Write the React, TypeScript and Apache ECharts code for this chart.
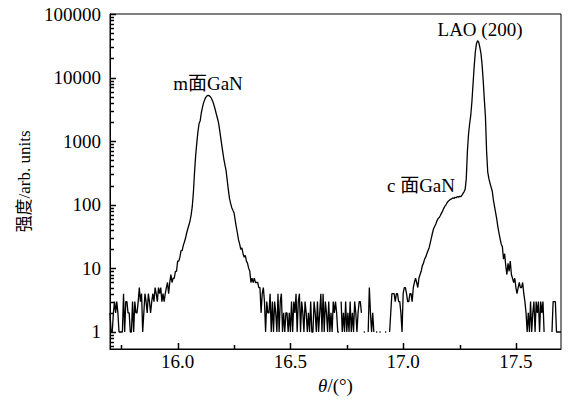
import React, { useEffect, useRef } from 'react';
import * as echarts from 'echarts';

// Sampling grid of the scan (degrees)
const thetaStart = 15.7;
const thetaStep = 0.005;

// Measured intensity (counts), one row = 0.05 deg; null = zero count (not drawable on log axis)
const intensity: (number | null)[] = [
  2, 1, 1, 2, 3, 2, 3, 2, 1, 1, // 15.70
  1, 1, 4, 1, 3, 3, 2, 2, 1, 1, // 15.75
  3, 1, 3, 2, 2, 3, 5, 3, 4, 1, // 15.80
  2, 4, 3, 2, 4, 3, 2, 3, 4, 3, // 15.85
  5, 4, 3, 5, 4, 5, 3, 4, 3, 4, // 15.90
  5, 6, 4, 6, 8, 6, 7, 7, 9, 9, // 15.95
  13, 13, 15, 19, 19, 23, 26, 30, 36, 42, // 16.00
  48, 56, 70, 95, 160, 330, 600, 950, 1400, 1900, // 16.05
  2100, 2800, 3400, 4000, 4500, 4900, 5150, 5250, 5200, 5000, // 16.10
  4700, 4300, 3800, 3300, 2800, 2400, 2050, 1600, 1200, 900, // 16.15
  680, 520, 420, 340, 240, 170, 125, 105, 90, 82, // 16.20
  75, 58, 45, 36, 28, 24, 20, 21, 17, 15, // 16.25
  16, 13, 12, 10, 9, 6, 7, 6, 7, 6, // 16.30
  6, 6, 5, 5, 2, 4, 5, 3, 1, 3, // 16.35
  2, 2, 4, 1, 3, 1, 3, 2, 1, 4, // 16.40
  1, 3, 4, 1, 2, 1, 2, 2, 1, 2, // 16.45
  1, 3, 1, 3, 2, 4, 1, 3, 4, 1, // 16.50
  3, 2, 1, 3, 2, 1, 2, 1, 3, 1, // 16.55
  1, 3, 2, 1, 3, 1, 2, 4, 1, 4, // 16.60
  1, 3, 2, 1, 3, 1, 2, 1, 3, 2, // 16.65
  3, 2, 1, 1, null, 3, 1, 2, 1, 3, // 16.70
  1, 2, 1, 3, 1, 2, 1, 3, 2, 1, // 16.75
  2, 3, 3, 2, null, 1, 1, null, null, 1, // 16.80
  5, 2, 1, 2, 1, null, 1, 1, null, 1, // 16.85
  1, null, null, null, 1, 1, null, null, 1, 2, // 16.90
  4, 4, 4, 3, 4, 4, 3, 3, 2, 1, // 16.95
  4, 5, 5, 4, 3, 3, 4, 4, 3, 5, // 17.00
  6, 7, 6, 5, 7, 8, 9, 11, 12, 14, // 17.05
  15, 17, 19, 21, 25, 30, 36, 42, 46, 50, // 17.10
  56, 61, 63, 68, 74, 80, 88, 95, 100, 108, // 17.15
  114, 118, 122, 124, 128, 126, 131, 129, 134, 132, // 17.20
  136, 134, 140, 150, 160, 175, 260, 700, 1300, 1900, // 17.25
  2600, 4200, 8000, 15000, 25000, 34000, 38000, 36000, 30000, 24000, // 17.30
  16000, 9000, 4500, 2400, 700, 330, 260, 220, 190, 165, // 17.35
  120, 95, 75, 60, 45, 36, 29, 24, 22, 14, // 17.40
  17, 11, 8, 12, 9, 13, 8, 7, 6, 7, // 17.45
  5, 4, 5, 6, 5, 5, 6, 4, 3, 2, // 17.50
  1, 2, 1, 3, 1, 2, 3, 1, 3, 2, // 17.55
  3, 1, 3, 2, 3, 1, null, null, null, null, // 17.60
  null, null, 1, 3, 3, 3, 1, 1, 1, 1, // 17.65
  1, // 17.70
];

const xMin = 15.7;
const xMax = 17.7;
const yMin = 0.54;
const yMax = 100000;
const xMajorTicks = [16.0, 16.5, 17.0, 17.5];
const xMinorTicks = [15.75, 16.25, 16.75, 17.25];
const yMajorTicks = [1, 10, 100, 1000, 10000, 100000];
const yDecades = [1, 10, 100, 1000, 10000];
const yMinorSteps = [2, 3, 4, 5, 6, 7, 8, 9];
const yMinorBelowOne = [0.6, 0.7, 0.8, 0.9];

const annotations = [
  { text: 'm面GaN', x: 208, y: 83 },
  { text: 'LAO (200)', x: 480, y: 29 },
  { text: 'c 面GaN', x: 421, y: 185 },
];

const FONT = '"Liberation Serif", "Times New Roman", "Noto Sans CJK SC", serif';
const MAJOR_LEN = 6;
const MINOR_LEN = 4;
const TICK_COLOR = '#000';

export default function App() {
  const ref = useRef<HTMLDivElement>(null);

  useEffect(() => {
    if (!ref.current) return;
    const chart = echarts.init(ref.current, undefined, { renderer: 'svg' });

    const lineData = intensity.map((v, i) => [
      Number((thetaStart + i * thetaStep).toFixed(3)),
      v === null ? '-' : v,
    ]);

    const yMinor = [
      ...yMinorBelowOne,
      ...yDecades.flatMap((d) => yMinorSteps.map((s) => s * d)),
    ];

    const isPow10 = (v: number) => {
      const l = Math.log10(v);
      return Math.abs(l - Math.round(l)) < 1e-6;
    };

    chart.setOption({
      animation: false,
      backgroundColor: '#fff',
      grid: {
        left: 110,
        right: 9,
        top: 14,
        bottom: 62,
        show: true,
        borderColor: '#000',
        borderWidth: 1,
        backgroundColor: 'transparent',
      },
      xAxis: {
        type: 'value',
        min: xMin,
        max: xMax,
        name: '{i|θ}/(°)',
        nameLocation: 'middle',
        nameGap: 26,
        nameTextStyle: {
          fontFamily: FONT,
          fontSize: 19,
          color: '#000',
          rich: { i: { fontStyle: 'italic', fontFamily: FONT, fontSize: 19, color: '#000' } },
        },
        axisLine: { show: true, lineStyle: { color: '#000', width: 1 } },
        axisTick: { show: false },
        axisLabel: {
          customValues: xMajorTicks,
          formatter: (v: number) => v.toFixed(1),
          fontFamily: FONT,
          fontSize: 19,
          color: '#000',
          margin: 3,
        },
        splitLine: { show: false },
      },
      yAxis: {
        type: 'log',
        min: yMin,
        max: yMax,
        name: '强度/arb. units',
        nameLocation: 'middle',
        nameGap: 77,
        nameTextStyle: { fontFamily: FONT, fontSize: 17, color: '#000' },
        axisLine: { show: true, lineStyle: { color: '#000', width: 1 } },
        axisTick: { show: false },
        axisLabel: {
          formatter: (v: number) => (isPow10(v) ? String(Math.round(v)) : ''),
          fontFamily: FONT,
          fontSize: 19,
          color: '#000',
          margin: 9,
        },
        splitLine: { show: false },
      },
      series: [
        {
          type: 'line',
          data: lineData,
          showSymbol: false,
          connectNulls: false,
          lineStyle: { color: '#000', width: 1.3 },
          z: 3,
        },
      ],
    });

    // Tick marks positioned through the chart's own scales
    const toPx = (x: number, y: number) =>
      chart.convertToPixel({ gridIndex: 0 }, [x, y]) as number[];
    const tickLines: any[] = [];
    const addX = (t: number, len: number) => {
      const p = toPx(t, yMin);
      const x = Math.round(p[0]) + 0.5;
      tickLines.push({
        type: 'line',
        z: 100,
        shape: { x1: x, y1: p[1], x2: x, y2: p[1] - len },
        style: { stroke: TICK_COLOR, lineWidth: 1.5 },
      });
    };
    const addY = (t: number, len: number) => {
      const p = toPx(xMin, t);
      const y = Math.round(p[1]) + 0.5;
      tickLines.push({
        type: 'line',
        z: 100,
        shape: { x1: p[0], y1: y, x2: p[0] + len, y2: y },
        style: { stroke: TICK_COLOR, lineWidth: 1.5 },
      });
    };
    xMajorTicks.forEach((t) => addX(t, MAJOR_LEN));
    xMinorTicks.forEach((t) => addX(t, MINOR_LEN));
    yMajorTicks.forEach((t) => addY(t, MAJOR_LEN));
    yMinor.forEach((t) => addY(t, MINOR_LEN));

    chart.setOption({
      graphic: [
        ...annotations.map((a) => ({
          type: 'text',
          x: a.x,
          y: a.y,
          silent: true,
          style: {
            text: a.text,
            fontFamily: FONT,
            fontSize: 19,
            fill: '#000',
            align: 'center',
            verticalAlign: 'middle',
          },
        })),
        ...tickLines,
      ],
    });

    return () => chart.dispose();
  }, []);

  return (
    <div
      ref={ref}
      style={{ position: 'absolute', left: 0, top: 0, width: 570, height: 411 }}
    />
  );
}
